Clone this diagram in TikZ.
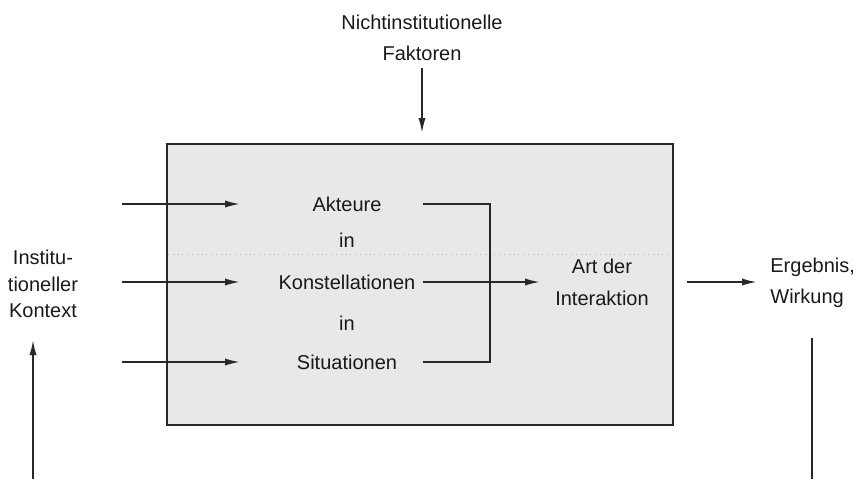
\documentclass[tikz,border=0pt]{standalone}
\usepackage{fontspec}
\setmainfont{Liberation Sans}
\usepackage{tikz}
\usetikzlibrary{arrows.meta}

\begin{document}
\begin{tikzpicture}[x=0.5pt,y=-0.5pt]

	\definecolor{darkgray}{RGB}{40,40,40}
	\definecolor{boxgray}{RGB}{232,232,232}

	\tikzstyle{edge} = [draw,darkgray,line width=0.9pt]
	\tikzstyle{pfeil} = [edge,-{Latex[length=7.5pt,width=3.6pt]}]
	\tikzset{label/.style = {text=black!90,inner sep=0pt,font=\fontsize{10}{13.3}\selectfont}}

	\useasboundingbox (0,0) rectangle (857,479);

	\filldraw[fill=boxgray,draw=darkgray,line width=1.1pt] (167,144) rectangle (673,425);
	\draw[gray!60,dotted,line width=0.4pt] (168,254.5) -- (672,254.5);

	\node[label,align=center] (nif) at (422,38) {Nichtinstitutionelle\\[2pt]Faktoren};
	\node[label,align=center] (ink) at (43,284) {Institu-\\tioneller\\Kontext};
	\node[label,align=left,anchor=west] (erg) at (770,283) {Ergebnis,\\[2.5pt]Wirkung};
	\node[label,align=center] (art) at (602,282.5) {Art der\\[2.5pt]Interaktion};

	\node[label,anchor=mid] (akt) at (347,206.5) {Akteure};
	\node[label,anchor=mid] (in1) at (347,242) {in};
	\node[label,anchor=mid] (kon) at (347,284) {Konstellationen};
	\node[label,anchor=mid] (in2) at (347,325) {in};
	\node[label,anchor=mid] (sit) at (347,364) {Situationen};

	% Pfeile von links in den Kasten
	\coordinate (e1) at (122,204);
	\coordinate (e2) at (122,282);
	\coordinate (e3) at (122,362);
	\coordinate (z) at (240,0);
	\draw[pfeil] (e1) -- (e1 -| z);
	\draw[pfeil] (e2) -- (e2 -| z);
	\draw[pfeil] (e3) -- (e3 -| z);

	% Klammer
	\coordinate (a) at (423,0);
	\coordinate (k) at (490,0);
	\draw[edge] (e1 -| a) -- (e1 -| k) -- (e3 -| k) -- (e3 -| a);
	\draw[pfeil] (e2 -| a) -- (540,282);

	\draw[pfeil] (687,282) -- (757,282);
	\draw[pfeil] (422,68) -- (422,133);

	% Rueckkopplung
	\coordinate (u1) at (33,479);
	\coordinate (u2) at (812,479);
	\draw[pfeil] (u1) -- (33,340);
	\draw[edge] (u2) -- (812,338);

\end{tikzpicture}
\end{document}
